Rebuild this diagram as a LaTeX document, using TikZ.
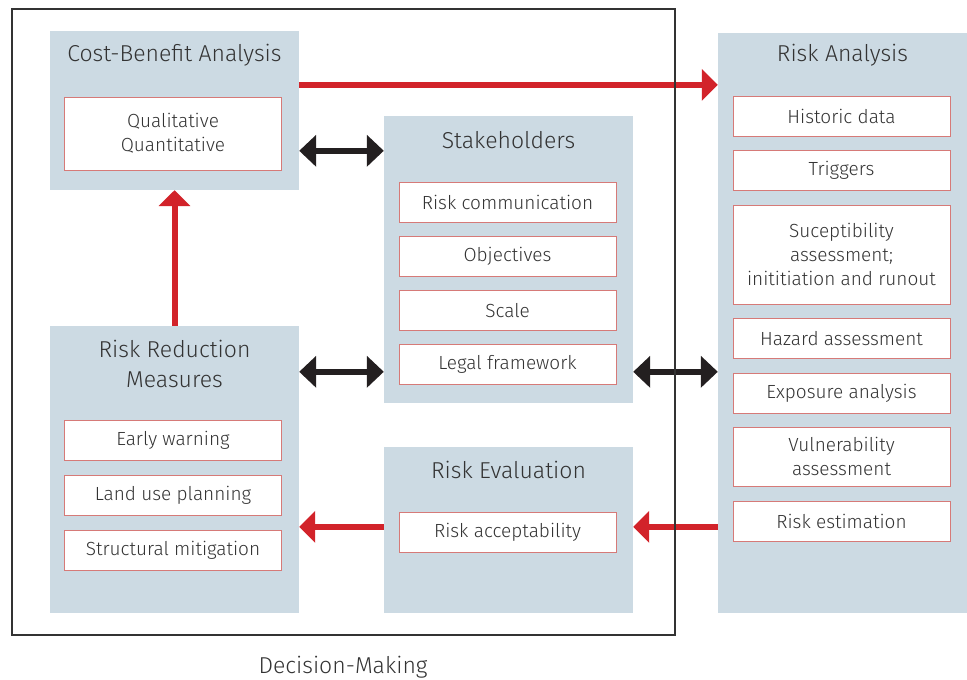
\documentclass[tikz,border=0pt]{standalone}
\usepackage{fontspec}
\setmainfont{Fira Sans Light}
\usetikzlibrary{arrows.meta}
\definecolor{panelblue}{RGB}{204,218,227}
\definecolor{riskred}{RGB}{210,35,42}
\definecolor{boxred}{RGB}{214,122,120}
\definecolor{darkarrow}{RGB}{35,31,32}
\definecolor{textgray}{RGB}{51,51,51}
\begin{document}
\begin{tikzpicture}[x=1pt,y=-1pt,
	panel/.style={fill=panelblue,minimum width=249pt,inner sep=0pt},
	item/.style={draw=boxred,fill=white,line width=1pt,minimum width=217pt,minimum height=40pt,inner sep=0pt,align=center,text=textgray,font=\fontsize{19}{24}\selectfont},
	title/.style={text=textgray,align=center,font=\fontsize{23}{30}\selectfont},
	redarrow/.style={draw=riskred,line width=6pt,-{Triangle[length=16pt,width=31pt]}},
	blackarrow/.style={draw=darkarrow,line width=6pt,{Triangle[length=17pt,width=31pt]}-{Triangle[length=17pt,width=31pt]}}]
	\useasboundingbox (0,0) rectangle (967,680);
	
	\node[panel,minimum height=159pt] (cba) at (174.5,110.5) {};
	\node[panel,minimum height=287pt] (stk) at (508.5,259.5) {};
	\node[panel,minimum height=166pt] (rev) at (508.5,530) {};
	\node[panel,minimum height=287pt] (rrm) at (174.5,469.5) {};
	\node[panel,minimum height=580pt] (ra) at (842.5,323) {};
	
	\node[title] (cbatitle) at (174.5,55) {Cost-Benefit Analysis};
	\node[item,minimum height=73pt] (qual) at (173,133.5) {Qualitative\\Quantitative};
	
	\node[title] (stktitle) at (508.5,140) {Stakeholders};
	\node[item] (comm) at (507.5,202) {Risk communication};
	\node[item] (obj) at (507.5,256) {Objectives};
	\node[item] (scale) at (507.5,310.5) {Scale};
	\node[item] (legal) at (507.5,364.5) {Legal framework};
	
	\node[title] (revtitle) at (508.5,470) {Risk Evaluation};
	\node[item] (accept) at (507.5,532) {Risk acceptability};
	
	\node[title] (rrmtitle) at (174.5,364) {Risk Reduction\\Measures};
	\node[item] (early) at (173,440) {Early warning};
	\node[item] (land) at (173,495) {Land use planning};
	\node[item] (struct) at (173,550) {Structural mitigation};
	
	\node[title] (ratitle) at (842.5,55) {Risk Analysis};
	\node[item] (hist) at (841.5,116) {Historic data};
	\node[item] (trig) at (841.5,170.5) {Triggers};
	\node[item,minimum height=99pt] (sus) at (841.5,254.5) {Suceptibility\\assessment;\\inititiation and runout};
	\node[item] (haz) at (841.5,338.5) {Hazard assessment};
	\node[item] (expo) at (841.5,393) {Exposure analysis};
	\node[item,minimum height=59pt] (vuln) at (841.5,456.5) {Vulnerability\\assessment};
	\node[item] (est) at (841.5,521.5) {Risk estimation};
	
	\coordinate (cbaout) at ([yshift=-54pt]cba.north east);
	\coordinate (cbaside) at ([yshift=-120pt]cba.north east);
	\coordinate (rrmside) at ([yshift=-46pt]rrm.north east);
	\coordinate (revin) at ([yshift=-80pt]rev.north east);
	\coordinate (revout) at ([yshift=-80pt]rev.north west);
	
	\draw[redarrow] (cbaout) -- (cbaout -| ra.west);
	\draw[blackarrow] (cbaside) -- (cbaside -| stk.west);
	\draw[blackarrow] (rrmside) -- (rrmside -| stk.west);
	\draw[blackarrow] (rrmside -| stk.east) -- (rrmside -| ra.west);
	\draw[redarrow] (revin -| ra.west) -- (revin);
	\draw[redarrow] (revout) -- (revout -| rrm.east);
	\draw[redarrow] (rrm.north) -- (cba.south);
	
	\draw[black!80,line width=1.5pt] (12,9) rectangle (675,635);
	\node[title] (dm) at (343,667) {Decision-Making};
\end{tikzpicture}
\end{document}
